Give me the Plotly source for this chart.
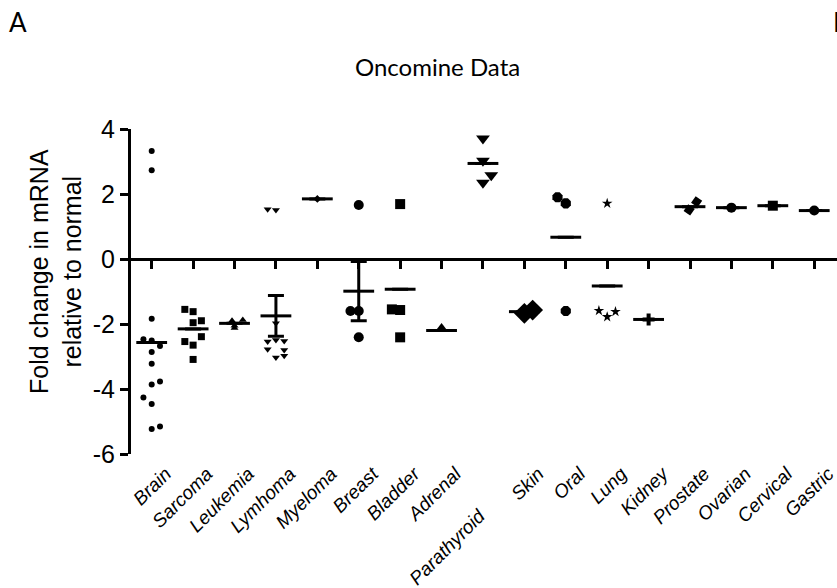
import plotly.graph_objects as go

# ---------------- data ----------------
categories = ["Brain", "Sarcoma", "Leukemia", "Lymhoma", "Myeloma", "Breast", "Bladder",
              "Adrenal", "Parathyroid", "Skin", "Oral", "Lung", "Kidney", "Prostate",
              "Ovarian", "Cervical", "Gastric"]

brain = [3.32, 2.73, -1.84, -2.47, -2.51, -2.68, -2.86, -3.22, -3.86, -3.77, -4.26, -4.46, -5.23, -5.15]
sarcoma = [-1.55, -1.62, -1.96, -1.90, -2.54, -2.65, -2.39, -3.09]
leukemia = [-1.90, -2.05, -2.12, -1.88]
lymhoma = [1.53, 1.51, -1.98, -2.54, -2.49, -2.52, -2.78, -2.80, -3.03, -2.98]
myeloma = [1.85]
breast = [1.66, -1.60, -1.60, -2.41]
bladder = [1.69, -1.55, -1.57, -2.41]
adrenal = [-2.15]
parathyroid = [3.71, 3.02, 2.58, 2.35]
skin = [-1.67, -1.57]
oral = [1.90, 1.71, -1.60]
lung = [1.71, -1.59, -1.78, -1.62]
kidney = [-1.86]
prostate = [1.76, 1.51]
ovarian = [1.58]
cervical = [1.64]
gastric = [1.49]

values = [brain, sarcoma, leukemia, lymhoma, myeloma, breast, bladder, adrenal, parathyroid,
          skin, oral, lung, kidney, prostate, ovarian, cervical, gastric]

means = [-2.57, -2.15, -1.98, -1.75, 1.85, -0.99, -0.93, -2.20, 2.94, -1.62, 0.67, -0.83,
         -1.86, 1.61, 1.58, 1.64, 1.49]
sem = [0, 0, 0, 0.63, 0, 0.91, 0, 0, 0, 0, 0, 0, 0, 0, 0, 0, 0]

y_ticks = [-6, -4, -2, 0, 2, 4]
y_tick_labels = ["-6", "-4", "-2", "0", "2", "4"]

# ---------------- styling / point spreading ----------------
slot = 0.2  # horizontal spread step (category units)
spread = [
    [0, 0, 0, -1, 0, 1, 0, 0, 0, 1, -1, 0, 0, 1],
    [-1, 0, 0, 1, -1, 0, 1, 0],
    [-0.3, 0, 0, 1],
    [-1, 0, 0, -1, 0, 1, -1, 1, 0, 1],
    [0],
    [0, -1, 0, 0],
    [0, -1, 0, 0],
    [0],
    [0, 0, 1, 0],
    [0, 1],
    [-1, 0, 0],
    [0, -1, 0, 1],
    [0],
    [0.8, -0.1],
    [0], [0], [0],
]
symbols = ["circle", "square", "triangle-up", "triangle-down", "diamond", "circle", "square",
           "triangle-up", "triangle-down", "diamond", "octagon", "star", "cross", "square",
           "circle", "square", "circle"]
sizes = [6, 7, 7, 7, 6, 10, 10, 12, 12, 16, 11, 8, 10, 8, 10, 10, 10]
angles = [0] * 17
angles[13] = 35

L, R, T, B = 131, 0, 129, 134
W, H = 837, 588
XR = [-0.5, 16.55]
YR = [-6, 4]
LOWERED = "Parathyroid"  # label placed lower (to avoid colliding with its neighbour)


def px_x(p):
    return (p - L) / (W - L - R)


def px_y(p):
    return (H - B - p) / (H - B - T)


fig = go.Figure()

for i, vals in enumerate(values):
    fig.add_trace(go.Scatter(
        x=[i + s * slot for s in spread[i]], y=vals, mode="markers",
        marker=dict(symbol=symbols[i], size=sizes[i], color="black", angle=angles[i],
                    line=dict(width=0)),
        showlegend=False, hoverinfo="skip"))

fig.add_trace(go.Scatter(
    x=list(range(len(categories))), y=means, mode="markers",
    marker=dict(symbol="line-ew", size=22, line=dict(width=3, color="black")),
    error_y=dict(type="data", array=sem, visible=True, thickness=3, width=8, color="black"),
    showlegend=False, hoverinfo="skip"))

# carrier trace for the zero-line axis
fig.add_trace(go.Scatter(x=[0], y=[0], xaxis="x2", mode="markers",
                         marker=dict(opacity=0), showlegend=False, hoverinfo="skip"))

zero_pos = (0 - YR[0]) / (YR[1] - YR[0])
axis_text = ["" if c == LOWERED else c for c in categories]
label_font = dict(family="Liberation Sans", size=19, style="italic", color="black")

fig.update_layout(
    width=W, height=H, margin=dict(l=L, r=R, t=T, b=B),
    paper_bgcolor="white", plot_bgcolor="white",
    font=dict(family="Liberation Sans, Arial, sans-serif", color="black"),
    xaxis=dict(range=XR, tickmode="array", tickvals=list(range(len(categories))),
               ticktext=axis_text, tickangle=-45, showline=False, ticks="",
               showgrid=False, zeroline=False, tickfont=label_font,
               ticklabelstandoff=4, ticklabelshift=14, ticklabeloverflow="allow"),
    xaxis2=dict(range=XR, overlaying="x", matches="x", anchor="free", position=zero_pos,
                side="bottom", showline=True, linewidth=3, linecolor="black",
                ticks="outside", ticklen=8, tickwidth=3, tickcolor="black",
                tickvals=list(range(len(categories))), showticklabels=False,
                showgrid=False, zeroline=False),
    yaxis=dict(range=YR, tickmode="array", tickvals=y_ticks, ticktext=y_tick_labels,
               showline=True, linewidth=3, linecolor="black",
               ticks="outside", ticklen=8, tickwidth=3, tickcolor="black",
               showgrid=False, zeroline=False,
               tickfont=dict(family="Liberation Sans", size=25)),
    annotations=[
        dict(text=LOWERED, textangle=-45, x=categories.index(LOWERED), xref="x",
             y=px_y(501), yref="paper", xanchor="right", yanchor="top", xshift=10,
             showarrow=False, font=label_font),
        dict(text="Fold change in mRNA<br>relative to normal", textangle=-90,
             x=px_x(55), y=px_y(272), xref="paper", yref="paper",
             xanchor="center", yanchor="middle", showarrow=False,
             font=dict(family="Liberation Sans", size=25)),
        dict(text="Oncomine Data", x=px_x(437), y=px_y(67), xref="paper", yref="paper",
             xanchor="center", yanchor="middle", showarrow=False,
             font=dict(family="Lato", size=24)),
        dict(text="A", x=px_x(7), y=px_y(22), xref="paper", yref="paper",
             xanchor="left", yanchor="middle", showarrow=False,
             font=dict(family="Lato", size=26)),
        dict(text="B", x=px_x(831), y=px_y(22), xref="paper", yref="paper",
             xanchor="left", yanchor="middle", showarrow=False,
             font=dict(family="Lato", size=26)),
    ],
)

fig.write_html("out.html")
